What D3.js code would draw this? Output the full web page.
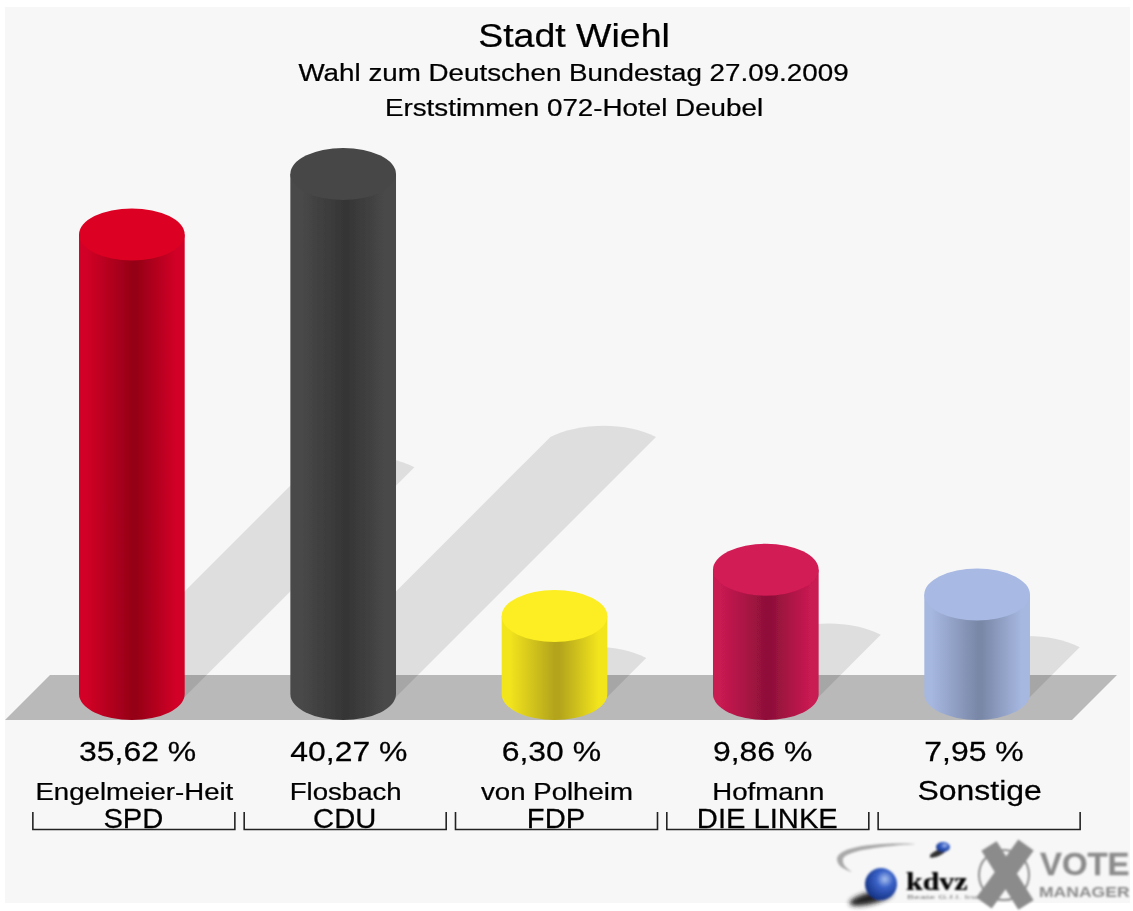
<!DOCTYPE html>
<html><head><meta charset="utf-8"><script src="https://cdn.jsdelivr.net/npm/d3@7"></script>
<style>html,body{margin:0;padding:0;background:#fff}svg{display:block}text{font-family:"Liberation Sans",Arial,sans-serif;fill:#000;stroke:#000;stroke-width:.25}</style></head>
<body><svg id="c" width="1133" height="911"></svg>
<script>
const parties = ["SPD","CDU","FDP","DIE LINKE",""];
const names = ["Engelmeier-Heit","Flosbach","von Polheim","Hofmann","Sonstige"];
const values = [35.62,40.27,6.30,9.86,7.95];
const labels = ["35,62 %","40,27 %","6,30 %","9,86 %","7,95 %"];
const topColors = ["#dc0024","#474747","#fcee21","#d11b56","#a8b9e3"];
const edgeColors = ["#d20026","#4a4a4a","#f3e51f","#c91a52","#a6b7e0"];
const darkColors = ["#960017","#363636","#b3a41a","#8f1039","#7a88a8"];
const titleLines = ["Stadt Wiehl","Wahl zum Deutschen Bundestag 27.09.2009","Erststimmen 072-Hotel Deubel"];

const svg = d3.select("#c");
const x = d3.scaleBand().domain(d3.range(5)).range([26.2,1082.8]).paddingInner(.5).paddingOuter(.25);
const y = d3.scaleLinear().domain([0,40.27]).range([698,174]);
const bw = x.bandwidth(), rx = bw/2, ry = 26, baseY = 694, shY = 697;
const cx = i => x(i)+rx;

const defs = svg.append("defs");
defs.append("filter").attr("id","soft").attr("x","-5%").attr("y","-5%").attr("width","110%").attr("height","110%")
  .append("feGaussianBlur").attr("stdDeviation",.6);
defs.append("filter").attr("id","soft2").attr("x","-5%").attr("y","-20%").attr("width","110%").attr("height","140%")
  .append("feGaussianBlur").attr("stdDeviation",.9);
defs.append("filter").attr("id","soft3").attr("x","-30%").attr("y","-100%").attr("width","160%").attr("height","300%")
  .append("feGaussianBlur").attr("stdDeviation",2);
values.forEach((v,i)=>{
  const g = defs.append("linearGradient").attr("id","g"+i);
  [[0,edgeColors[i]],[.07,edgeColors[i]],[.5,darkColors[i]],[.55,darkColors[i]],[.92,edgeColors[i]],[1,edgeColors[i]]]
   .forEach(s=>g.append("stop").attr("offset",s[0]).attr("stop-color",s[1]));
});
const ringG = defs.append("radialGradient").attr("id","ball").attr("cx",.62).attr("cy",.35).attr("r",.75);
[[0,"#a8c0ee"],[.35,"#3a62c8"],[1,"#0e2a78"]].forEach(s=>ringG.append("stop").attr("offset",s[0]).attr("stop-color",s[1]));

svg.append("rect").attr("x",5).attr("y",7).attr("width",1125).attr("height",896).attr("fill","#f7f7f7");
const floor = [[5,720],[50,675],[1117,675],[1072,720]];
svg.append("path").attr("d",d3.line()(floor)+"Z").attr("fill","#b9b9b9");

const art = svg.append("g").attr("filter","url(#soft)");
art.selectAll(".shadow").data(values).join("path").attr("class","shadow")
  .attr("fill","#000").attr("fill-opacity",.1)
  .attr("d",(v,i)=>{
    const d=(baseY-y(v))*.5, l=cx(i)-rx, r=cx(i)+rx;
    return `M${l},${shY}L${l+d},${shY-d}C${l+d+22},${shY-d-12} ${l+d+72},${shY-d-18} ${r+d},${shY-d}L${r},${shY}Z`;
  });
art.selectAll(".body").data(values).join("path").attr("class","body")
  .attr("fill",(v,i)=>`url(#g${i})`)
  .attr("d",(v,i)=>{
    const l=cx(i)-rx, r=cx(i)+rx;
    return `M${l},${y(v)}L${l},${baseY}A${rx},${ry} 0 0 0 ${r},${baseY}L${r},${y(v)}Z`;
  });
art.selectAll(".top").data(values).join("ellipse").attr("class","top")
  .attr("cx",(v,i)=>cx(i)).attr("cy",v=>y(v)).attr("rx",rx).attr("ry",ry).attr("fill",(v,i)=>topColors[i]);

const txt = svg.append("g").attr("filter","url(#soft)");
function put(sel,px,py,size,sx,anchor,s,weight){
  return sel.append("text").attr("transform",`translate(${px},${py}) scale(${sx},1)`).attr("font-size",size)
    .attr("text-anchor",anchor).attr("font-weight",weight||"normal").text(s);
}
put(txt,574,47,33.5,1.12,"middle",titleLines[0]);
put(txt,573.5,81,24.8,1.12,"middle",titleLines[1]);
put(txt,574,116,24.8,1.12,"middle",titleLines[2]);
values.forEach((v,i)=>{
  put(txt,x(i),761,28,1.14,"start",labels[i]);
  put(txt,cx(i)+2.5,800,i===4?28:24,i===4?1.14:1.15,"middle",names[i]);
  put(txt,cx(i)+1.5,828,27,1.08,"middle",parties[i]);
  txt.append("path").attr("fill","none").attr("stroke","#222").attr("stroke-width",1.6)
    .attr("d",`M${cx(i)-99},812V829.5H${cx(i)+103}V812`);
});

// logo
const logo = svg.append("g").attr("filter","url(#soft2)");
logo.append("path").attr("d","M916,844C880,842 838,846 837,859C837,866 845,870 852,872C846,868 842,864 843,859C846,850 885,846 916,844Z").attr("fill","#a9a9a9");
logo.append("ellipse").attr("cx",871).attr("cy",898).attr("rx",22).attr("ry",6).attr("fill","#222").attr("filter","url(#soft3)").attr("transform","rotate(-14 871 898)");
logo.append("circle").attr("cx",881).attr("cy",884).attr("r",16).attr("fill","url(#ball)");
logo.append("ellipse").attr("cx",938).attr("cy",853).attr("rx",9).attr("ry",3).attr("fill","#333").attr("transform","rotate(-25 938 853)");
logo.append("ellipse").attr("cx",943).attr("cy",847).attr("rx",7).attr("ry",5).attr("fill","url(#ball)");
put(logo,906,890,25,1.2,"start","kdvz","bold").style("font-family","'Liberation Serif',serif");
put(logo,907,899,4.5,2.4,"start","Beate   G.f.I.   Inc").style("fill","#777").style("stroke","none");
logo.append("ellipse").attr("cx",1004).attr("cy",875).attr("rx",25).attr("ry",25).attr("fill","none").attr("stroke","#8d8d8d").attr("stroke-width",2);
logo.append("path").attr("d","M989,846L1026,905").attr("stroke","#8b8b8b").attr("stroke-width",18);
logo.append("path").attr("d","M1026,845L984,903").attr("stroke","#8b8b8b").attr("stroke-width",19);
put(logo,1040,875,31,1.06,"start","VOTE","bold").style("fill","#8b8b8b").style("stroke","#8b8b8b");
put(logo,1039,897,15,1.17,"start","MANAGER","bold").style("fill","#8b8b8b").style("stroke","none");
</script></body></html>
